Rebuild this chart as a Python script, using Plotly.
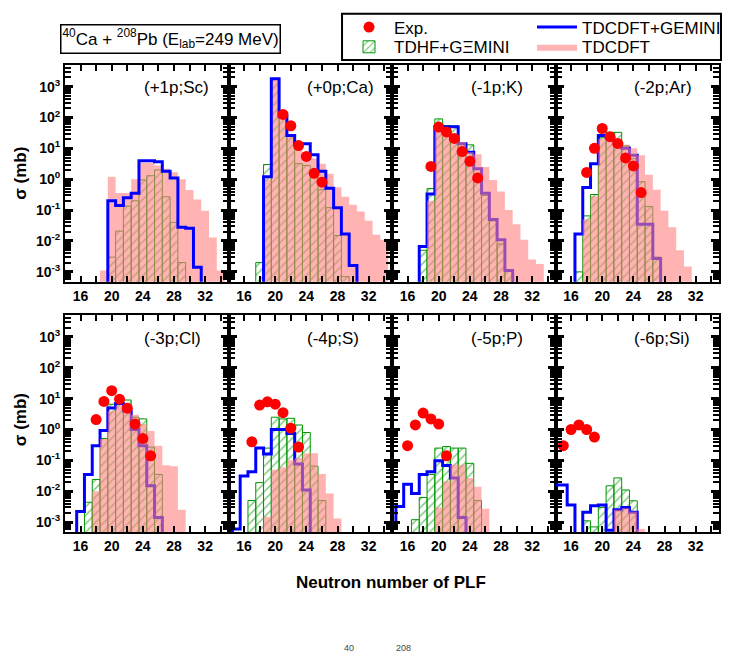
import plotly.graph_objects as go
from plotly.subplots import make_subplots

FONT = "Liberation Sans, Arial, sans-serif"

panel_labels = ["(+1p;Sc)", "(+0p;Ca)", "(-1p;K)", "(-2p;Ar)",
                "(-3p;Cl)", "(-4p;S)", "(-5p;P)", "(-6p;Si)"]

# Each series: (first neutron number, cross sections in mb); 0 = no entry
# TDCDFT (pink)
tdcdft_sc = (19, [1.1e-3, 1.2, 0.36, 0.36, 1.0, 3.4, 3.4, 2.8, 2.2, 1.7, 1.0, 0.45, 0.22, 0.095, 0.013, 1.1e-3])
tdcdft_ca = (19, [1.0, 1800, 120, 28, 8.5, 5.9, 4.7, 3.2, 1.5, 0.55, 0.27, 0.15, 0.09, 0.045, 0.016, 0.011])
tdcdft_k = (19, [0.2, 50, 40, 29, 16, 7.5, 6.4, 2.5, 0.95, 0.4, 0.1, 0.035, 0.011, 0.0025, 0.0018])
tdcdft_ar = (18, [0.05, 0.28, 20, 18, 16, 13, 10, 6.0, 1.4, 0.46, 0.095, 0.028, 0.005, 0.0015])
tdcdft_cl = (18, [0.01, 0.5, 4.0, 6.0, 5.0, 3.0, 1.5, 0.9, 0.3, 0.07, 0.065, 0.0025])
tdcdft_s = (19, [0.0015, 0.05, 0.06, 0.1, 0.12, 0.17, 0.17, 0.036, 0.0084, 0.0013])
tdcdft_p = (20, [0.003, 0.021, 0.072, 0.072, 0.027, 0.014, 0.0027])
tdcdft_si = (22, [0.0025, 0.0028, 0.0022, 0.0006])

# TDHF+GEMINI (green hatched)
tdhf_sc = (20, [0.003, 0.021, 0.135, 0.2, 0.95, 1.3, 2.0, 0.27, 0.04, 0.002])
tdhf_ca = (18, [0.002, 3.0, 1800, 130, 26, 3.2, 2.8, 1.35, 0.46, 0.12, 0.015, 7e-4])
tdhf_k = (18, [0.005, 0.5, 90, 55, 53, 15, 13, 2.2, 0.3, 0.045, 0.008, 0.0011])
tdhf_ar = (17, [0.001, 0.065, 0.32, 22, 33, 33, 12, 4.6, 0.83, 0.13, 0.003])
tdhf_cl = (17, [0.0044, 0.024, 0.51, 6.6, 7.5, 9.0, 2.5, 2.2, 0.27, 0.035])
tdhf_s = (17, [0.005, 0.019, 0.25, 2.5, 2.2, 2.3, 1.4, 0.8, 0.065, 0.005])
tdhf_p = (17, [0.0012, 0.0063, 0.035, 0.25, 0.28, 0.25, 0.25, 0.08, 0.005])
tdhf_si = (18, [0.0011, 0.0007, 0.003, 0.015, 0.027, 0.011, 0.0049])

# TDCDFT+GEMINI (blue step line)
gem_sc = (20, [0.2, 0.14, 0.25, 0.35, 4.0, 4.0, 3.7, 1.8, 1.1, 0.028, 0.026, 0.0014])
gem_ca = (19, [1.2, 1800, 110, 26, 14, 14, 6.2, 1.8, 0.51, 0.12, 0.017, 0.0016])
gem_k = (18, [0.0066, 0.33, 50, 50, 50, 14, 7.5, 2.2, 0.35, 0.05, 0.011, 0.0011])
gem_ar = (17, [0.017, 0.54, 3.2, 26, 22, 14, 10, 6.0, 0.035, 0.035, 0.0027])
gem_cl = (16, [0.0022, 0.035, 0.3, 0.93, 5.0, 7.0, 4.0, 1.0, 0.3, 0.015, 0.0014])
gem_s = (15, [6e-4, 0.031, 0.043, 0.25, 0.16, 1.0, 1.0, 0.74, 0.076, 0.011])
gem_p = (14, [0.0009, 0.0032, 0.017, 0.0085, 0.035, 0.043, 0.098, 0.068, 0.027, 0.0014])
gem_si = (14, [0.016, 0.016, 0.0036, 0, 0.0021, 0.0034, 0.0036, 5.5e-4, 0.0025, 0.003, 0.0021])

# Experiment (red dots)
exp_sc = (21, [])
exp_ca = (21, [126, 54, 12.3, 5.5, 1.55, 0.8])
exp_k = (19, [2.6, 49, 34, 21, 7.9, 3.8, 1.1])
exp_ar = (18, [1.66, 10, 44, 24, 14.5, 4.9, 2.7, 0.37])
exp_cl = (18, [2.1, 8.1, 18, 9.6, 4.9, 1.5, 0.51, 0.14])
exp_s = (17, [0.4, 6.2, 7.9, 6.6, 3.5, 1.1, 0.27])
exp_p = (16, [0.3, 1.4, 3.4, 2.2, 1.5, 0.14])
exp_si = (15, [0.3, 1.0, 1.4, 1.0, 0.57])

tdcdft_all = [tdcdft_sc, tdcdft_ca, tdcdft_k, tdcdft_ar, tdcdft_cl, tdcdft_s, tdcdft_p, tdcdft_si]
tdhf_all = [tdhf_sc, tdhf_ca, tdhf_k, tdhf_ar, tdhf_cl, tdhf_s, tdhf_p, tdhf_si]
gem_all = [gem_sc, gem_ca, gem_k, gem_ar, gem_cl, gem_s, gem_p, gem_si]
exp_all = [exp_sc, exp_ca, exp_k, exp_ar, exp_cl, exp_s, exp_p, exp_si]

x_ticks = [16, 20, 24, 28, 32]
y_decades = [-3, -2, -1, 0, 1, 2, 3]

PINK = "rgba(255,128,128,0.6)"
GREEN = "rgb(0,150,0)"
BLUE = "rgb(0,0,255)"
RED = "rgb(255,0,0)"
FLOOR = 1e-6


def step_path(series):
    n0, vals = series
    xs, ys = [n0 - 0.5], [FLOOR]
    for i, v in enumerate(vals):
        n = n0 + i
        yv = v if v > 0 else FLOOR
        xs += [n - 0.5, n + 0.5]
        ys += [yv, yv]
    xs.append(n0 + len(vals) - 0.5)
    ys.append(FLOOR)
    return xs, ys


fig = make_subplots(rows=2, cols=4, horizontal_spacing=0, vertical_spacing=34 / 474)

for k in range(8):
    row, col = k // 4 + 1, k % 4 + 1
    n0, vals = tdhf_all[k]
    fig.add_trace(go.Bar(
        x=[n0 + i for i in range(len(vals))],
        y=[v if v > 0 else None for v in vals],
        width=1,
        marker=dict(color="rgba(0,0,0,0)", line=dict(color=GREEN, width=1),
                    pattern=dict(shape="/", fgcolor=GREEN, bgcolor="rgba(0,0,0,0)",
                                 size=6, solidity=0.25, fillmode="overlay")),
        name="TDHF+G\u039eMINI", legendgroup="tdhf", showlegend=(k == 0),
        legend="legend3",
    ), row=row, col=col)

    gx, gy = step_path(gem_all[k])
    px_, py_ = step_path(tdcdft_all[k])
    blue = go.Scatter(x=gx, y=gy, mode="lines", line=dict(color=BLUE, width=3),
                      name="TDCDFT+GEMINI", legendgroup="gem", showlegend=(k == 0),
                      legend="legend2")
    pink = go.Scatter(x=px_, y=py_, mode="lines", fill="toself", fillcolor=PINK,
                      line=dict(width=0, color=PINK), name="TDCDFT", legendgroup="tdcdft",
                      showlegend=(k == 0), legend="legend4")
    if k < 2:
        fig.add_trace(pink, row=row, col=col)
        fig.add_trace(blue, row=row, col=col)
    else:
        fig.add_trace(blue, row=row, col=col)
        fig.add_trace(pink, row=row, col=col)

    e0, evals = exp_all[k]
    fig.add_trace(go.Scatter(
        x=[e0 + i for i in range(len(evals))], y=evals, mode="markers",
        marker=dict(color=RED, size=11), name="Exp.", legendgroup="exp",
        showlegend=(k == 1), legend="legend",
    ), row=row, col=col)

    fig.update_xaxes(row=row, col=col, range=[14, 35], tickvals=x_ticks,
                     ticktext=[str(t) for t in x_ticks],
                     ticks="inside", ticklen=6, tickwidth=1.5, tickcolor="black",
                     minor=dict(dtick=2, tick0=0, ticks="inside", ticklen=6, tickwidth=1.5,
                                tickcolor="black", showgrid=False),
                     showline=True, linewidth=2, linecolor="black", mirror="ticks",
                     showgrid=False, zeroline=False,
                     tickfont=dict(family=FONT, size=14, color="black", weight="bold"))
    fig.update_yaxes(row=row, col=col, type="log", range=[-3.32, 3.7],
                     tickmode="array",
                     tickvals=[10.0 ** d for d in y_decades],
                     ticktext=["10<sup>%d</sup>" % d for d in y_decades],
                     showticklabels=(col == 1),
                     ticks="inside", ticklen=8, tickwidth=2.5, tickcolor="black",
                     minor=dict(tickmode="array",
                                tickvals=[m * 10.0 ** d for d in range(-4, 4) for m in range(2, 10)],
                                ticks="inside", ticklen=6, tickwidth=1.5, tickcolor="black",
                                showgrid=False),
                     showline=True, linewidth=2, linecolor="black", mirror="ticks",
                     showgrid=False, zeroline=False,
                     tickfont=dict(family=FONT, size=14, color="black", weight="bold"))

annotations = []
for k in range(8):
    sfx = "" if k == 0 else str(k + 1)
    annotations.append(dict(text=panel_labels[k], xref="x%s domain" % sfx, yref="y%s domain" % sfx,
                            x=0.47, y=0.895, xanchor="left", yanchor="middle", showarrow=False,
                            font=dict(family=FONT, size=17, color="black")))

for yc in [0.768, 0.2405]:
    annotations.append(dict(text="<b>\u03c3 (mb)</b>", xref="paper", yref="paper", x=-0.068, y=yc,
                            textangle=-90, showarrow=False, xanchor="center", yanchor="middle",
                            font=dict(family=FONT, size=17, color="black")))

annotations.append(dict(text="<b>Neutron number of PLF</b>", xref="paper", yref="paper",
                        x=0.4992, y=-0.1076, showarrow=False, xanchor="center", yanchor="middle",
                        font=dict(family=FONT, size=17, color="black")))

annotations.append(dict(text="<sup>40</sup>Ca + <sup>208</sup>Pb (E<sub>lab</sub>=249 MeV)",
                        xref="paper", yref="paper", x=0.1615, y=1.0559, showarrow=False,
                        xanchor="center", yanchor="middle", bordercolor="black", borderwidth=1.5,
                        borderpad=1, bgcolor="white",
                        font=dict(family=FONT, size=17, color="black")))

# remnants of a caption line below the figure
for txt, xc in [("40", 352), ("208", 407)]:
    annotations.append(dict(text=txt, xref="paper", yref="paper", x=(xc - 65) / 661,
                            y=(532 - 643) / 474, yanchor="top", xanchor="center", showarrow=False,
                            font=dict(family=FONT, size=9, color="#444")))


def leg(xpx, ypx):
    return dict(x=(xpx - 65) / 661, y=1 + (58 - ypx) / 474, xanchor="left", yanchor="middle",
                orientation="v", bgcolor="rgba(0,0,0,0)", borderwidth=0, tracegroupgap=0,
                itemwidth=40, font=dict(family=FONT, size=17, color="black"))


fig.update_layout(
    width=736, height=656,
    margin=dict(l=65, r=10, t=58, b=124),
    paper_bgcolor="white", plot_bgcolor="white",
    barmode="overlay",
    annotations=annotations,
    font=dict(family=FONT, color="black"),
    legend=leg(347, 20),
    legend3=leg(347, 40),
    legend2=leg(537, 20),
    legend4=leg(537, 40),
    shapes=[dict(type="rect", xref="paper", yref="paper",
                 x0=(345 - 65) / 661, x1=(728 - 65) / 661,
                 y0=1 + (58 - 53) / 474, y1=1 + (58 - 6) / 474,
                 line=dict(color="black", width=2), fillcolor="rgba(0,0,0,0)")],
)

fig.write_html("out.html")
